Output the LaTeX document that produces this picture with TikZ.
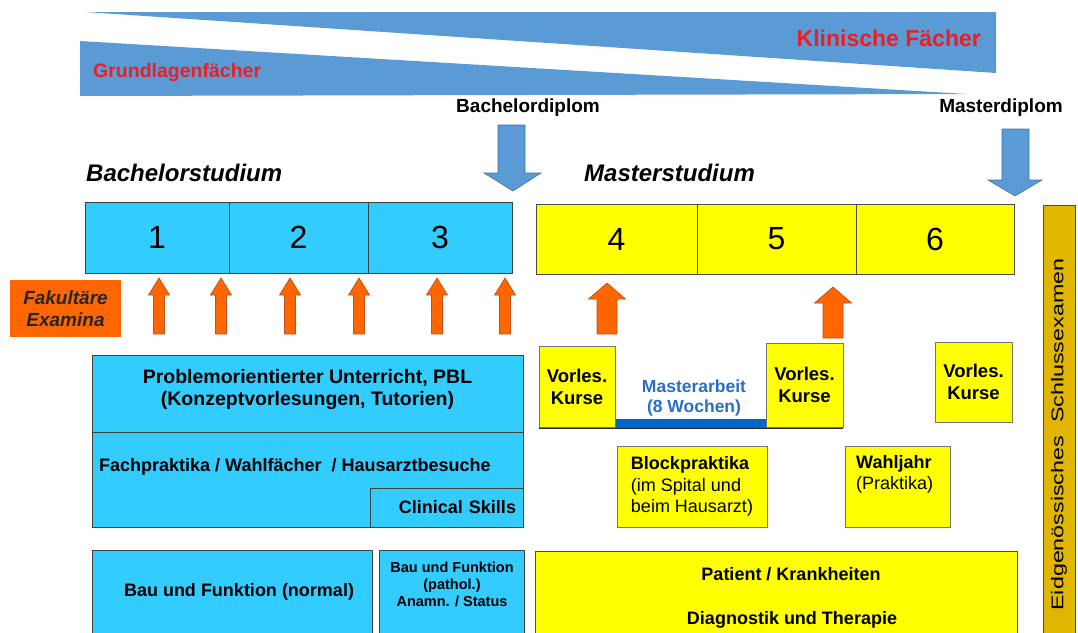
\documentclass[tikz,border=0pt]{standalone}
\usepackage{fontspec}
\setmainfont{Liberation Sans}
\usepackage{graphicx}
\definecolor{wedge}{RGB}{91,155,213}
\definecolor{wedgedark}{RGB}{65,113,156}
\definecolor{cyanbox}{RGB}{51,204,255}
\definecolor{yelbox}{RGB}{255,255,0}
\definecolor{goldbox}{RGB}{224,182,0}
\definecolor{orng}{RGB}{255,102,0}
\definecolor{orngd}{RGB}{190,80,30}
\definecolor{kred}{RGB}{235,30,35}
\definecolor{mblue}{RGB}{40,110,200}
\definecolor{barblue}{RGB}{0,102,204}
\newcommand{\fsz}[2]{\fontsize{#1}{#2}\selectfont}
% x, tip y, head-base y, bottom y, head half width, shaft half width
\newcommand{\orangeup}[6]{\filldraw[fill=orng, draw=orngd, line width=0.7pt]
  (#1-#6,#4) -- (#1-#6,#3) -- (#1-#5,#3) -- (#1,#2) -- (#1+#5,#3) -- (#1+#6,#3) -- (#1+#6,#4) -- cycle;}
\begin{document}
\begin{tikzpicture}[x=1pt,y=-1pt,
  txt/.style={inner sep=0pt},
  cbox/.style={draw=black!75, fill=cyanbox, line width=0.8pt, inner sep=0pt},
  ybox/.style={draw=black!70, fill=yelbox, line width=0.8pt, inner sep=0pt},
  bold18/.style={font=\fsz{18}{21.5}\bfseries},
  bluearrow/.style={fill=wedge, draw=wedgedark, line width=0.6pt}]
\useasboundingbox (0,0) rectangle (1078,632);
\clip (0,0) rectangle (1078,632);

% wedges
\fill[wedge] (85,12) -- (996,12) -- (996,73) -- cycle;
\fill[wedge] (80,41) -- (967,94) -- (80,96) -- cycle;
\node[txt, anchor=east, text=kred, font=\fsz{23}{27}\bfseries] (klin) at (981,38) {Klinische Fächer};
\node[txt, anchor=west, text=kred, font=\fsz{19.5}{23}\bfseries] (grund) at (93,72) {Grundlagenfächer};

% diploma arrows
\node[txt, font=\fsz{19}{22}\bfseries] (bdip) at (528,108) {Bachelordiplom};
\node[txt, font=\fsz{19}{22}\bfseries] (mdip) at (1001,108) {Masterdiplom};
\filldraw[bluearrow] (498,125) -- (525,125) -- (525,173) -- (541,173) -- (513,191) -- (484,173) -- (498,173) -- cycle;
\filldraw[bluearrow] (1002,129) -- (1029,129) -- (1029,180) -- (1042,180) -- (1015,196) -- (988,180) -- (1002,180) -- cycle;

\node[txt, anchor=west, font=\fsz{24}{28}\bfseries\itshape] (bst) at (86,173) {Bachelorstudium};
\node[txt, anchor=west, font=\fsz{24}{28}\bfseries\itshape] (mst) at (584,173) {Masterstudium};

% semesters
\node[cbox, minimum width=144pt, minimum height=71pt, font=\fsz{32}{36}] (s1) at (157,237.5) {1};
\node[cbox, minimum width=139pt, minimum height=71pt, font=\fsz{32}{36}] (s2) at (298.5,237.5) {2};
\node[cbox, minimum width=144pt, minimum height=71pt, font=\fsz{32}{36}] (s3) at (440,237.5) {3};
\node[ybox, minimum width=161pt, minimum height=70pt, font=\fsz{32}{36}] (s4) at (616.5,239) {4};
\node[ybox, minimum width=159pt, minimum height=70pt, font=\fsz{32}{36}] (s5) at (776.5,239) {5};
\node[ybox, minimum width=158pt, minimum height=70pt, font=\fsz{32}{36}] (s6) at (935,239) {6};

% final exam
\node[draw=black!70, fill=goldbox, line width=0.8pt, minimum width=32pt, minimum height=432pt, inner sep=0pt] (exam) at (1059,421) {};
\node[txt, rotate=90, font=\fsz{17}{20}] (examtxt) at (1059,434.5) {\scalebox{1.37}[1]{Eidgenössisches\ \ Schlussexamen}};

% faculty exams
\node[fill=orng, minimum width=111pt, minimum height=57pt, inner sep=0pt, align=center, font=\fsz{19}{22}\bfseries\itshape, text=black!85] (fak) at (65.5,308.5) {Fakultäre\\Examina};
\orangeup{159}{278}{295}{334}{10.5}{5.5}
\orangeup{221}{278}{295}{334}{10.5}{5.5}
\orangeup{290}{278}{295}{334}{10.5}{5.5}
\orangeup{359}{278}{295}{334}{10.5}{5.5}
\orangeup{437}{278}{295}{334}{10.5}{5.5}
\orangeup{505}{278}{295}{334}{10.5}{5.5}
\orangeup{607}{283}{299}{334}{18.5}{10}
\orangeup{833}{287}{303}{338}{18.5}{10}

% bachelor teaching blocks
\node[cbox, minimum width=431pt, minimum height=77pt] (pbl) at (307.5,393.5) {};
\node[txt, align=center, font=\fsz{19.5}{22}\bfseries] (pbltxt) at (307.5,389) {Problemorientierter Unterricht, PBL\\(Konzeptvorlesungen, Tutorien)};
\node[cbox, minimum width=431pt, minimum height=95pt] (fach) at (307.5,479.5) {};
\node[txt, anchor=west, font=\fsz{18}{21}\bfseries] (fachtxt) at (99,467) {Fachpraktika / Wahlfächer \ / Hausarztbesuche};
\node[cbox, minimum width=153pt, minimum height=39pt, text width=139pt, align=right, font=\fsz{18}{21}\bfseries] (clin) at (446.5,507.5) {Clinical Skills};

\node[cbox, minimum width=280pt, minimum height=86pt] (bau1) at (232,593) {};
\node[txt, font=\fsz{18}{21}\bfseries] (bau1txt) at (239,592) {Bau und Funktion (normal)};
\node[cbox, minimum width=145pt, minimum height=86pt] (bau2) at (451.5,593) {};
\node[txt, align=center, font=\fsz{14.5}{17}\bfseries] (bau2txt) at (452,584) {Bau und Funktion\\(pathol.)\\Anamn. / Status};

% master teaching blocks
\fill[barblue] (539,419) rectangle (843,428);
\draw[black!85, line width=1.5pt] (539,428.5) -- (843,428.5);
\node[txt, align=center, text=mblue, font=\fsz{17.5}{20}\bfseries] (marb) at (694,398) {Masterarbeit\\(8 Wochen)};
\node[ybox, draw=black!55, minimum width=76pt, minimum height=81pt, align=center, font=\fsz{18.5}{22}\bfseries] (v1) at (577,386.5) {Vorles.\\Kurse};
\node[ybox, draw=black!55, minimum width=77pt, minimum height=84pt, align=center, font=\fsz{18.5}{22}\bfseries] (v2) at (804.5,385) {Vorles.\\Kurse};
\node[ybox, draw=black!55, minimum width=77pt, minimum height=80pt, align=center, font=\fsz{18.5}{22}\bfseries] (v3) at (973.5,382) {Vorles.\\Kurse};

\node[ybox, draw=black!55, minimum width=150pt, minimum height=81pt, align=left, font=\fsz{18}{21.5}] (block) at (692,486.5) {\textbf{Blockpraktika}\\(im Spital und\\beim Hausarzt)};
\node[ybox, draw=black!55, minimum width=105pt, minimum height=81pt] (wahl) at (897.5,486.5) {};
\node[txt, anchor=north west, align=left, font=\fsz{18}{21.5}] (wahltxt) at (856,455) {\textbf{Wahljahr}\\(Praktika)};

\node[ybox, minimum width=482pt, minimum height=84pt] (pat) at (776,593) {};
\node[txt, font=\fsz{18}{21}\bfseries] (pattxt) at (791,574) {Patient / Krankheiten};
\node[txt, font=\fsz{18}{21}\bfseries] (diagtxt) at (792,620) {Diagnostik und Therapie};
\end{tikzpicture}
\end{document}
